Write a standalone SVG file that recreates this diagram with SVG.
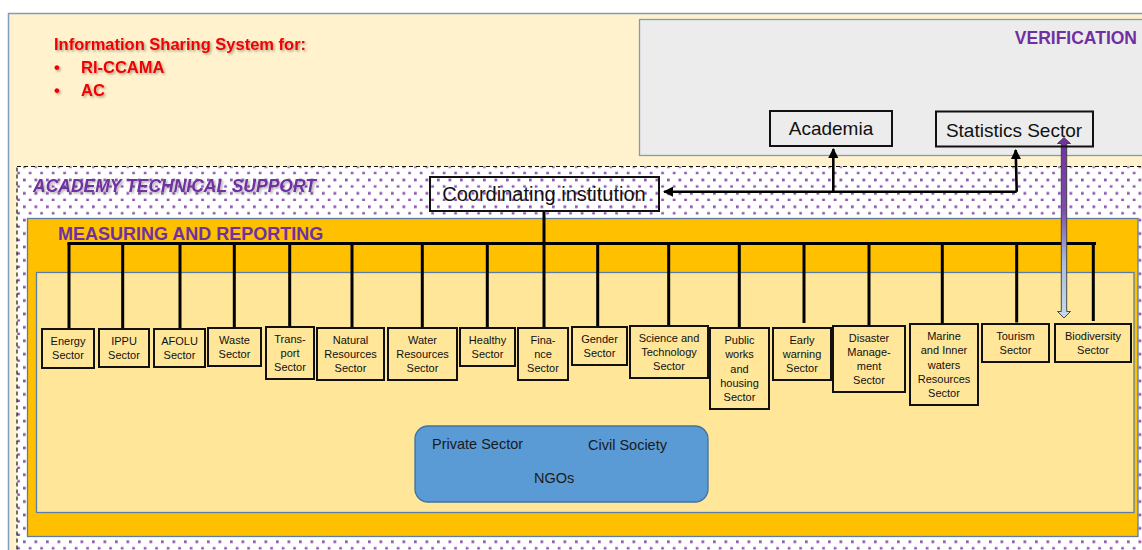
<svg xmlns="http://www.w3.org/2000/svg" width="1142" height="550" viewBox="0 0 1142 550">
  <defs>
    <style>
      .title { font-family: "Liberation Sans", Arial, sans-serif; font-weight: bold; }
      .red { fill: #f00000; font-size: 16.5px; }
      .purple { fill: #7030a0; }
      .sector rect { fill: #ffe699; stroke: #111; stroke-width: 2; }
      .sector text { font-family: "Liberation Sans", Arial, sans-serif; font-size: 11px; fill: #111; text-anchor: middle; }
      .box { fill: none; stroke: #111; stroke-width: 2; }
      .label { font-family: "Liberation Sans", Arial, sans-serif; fill: #111; }
      .wire { fill: none; stroke: #000; stroke-width: 3; }
      .link { fill: none; stroke: #000; stroke-width: 2.6; }
      .soft { font-family: "Liberation Sans", Arial, sans-serif; font-size: 14.5px; fill: #1a1a1a; }
    </style>
    <pattern id="dots" width="11.5" height="13.4" patternUnits="userSpaceOnUse">
      <rect width="11.5" height="13.4" fill="#ffffff"/>
      <rect x="0" y="4.4" width="2.7" height="2.7" fill="#8a4fb0"/>
      <rect x="5.75" y="11.1" width="2.7" height="2.7" fill="#8a4fb0"/>
    </pattern>
    <linearGradient id="twoWay" gradientUnits="userSpaceOnUse" x1="0" y1="137" x2="0" y2="318">
      <stop offset="0" stop-color="#7030a0"/>
      <stop offset="0.4" stop-color="#7d4fab"/>
      <stop offset="0.7" stop-color="#a9bedc"/>
      <stop offset="1" stop-color="#c5daf0"/>
    </linearGradient>
    <filter id="shade" x="-5%" y="-30%" width="110%" height="160%">
      <feDropShadow dx="1.5" dy="1.5" stdDeviation="1" flood-color="#000" flood-opacity="0.35"/>
    </filter>
    <marker id="head" viewBox="0 0 10 10" refX="9" refY="5" markerWidth="4" markerHeight="4" orient="auto" markerUnits="strokeWidth">
      <path d="M0,0 L10,5 L0,10 z" fill="#000"/>
    </marker>
  </defs>

  <!-- panels -->
  <g id="panels">
    <rect x="8.5" y="13.5" width="1140" height="540" fill="#fff2cc" stroke="#7f9cbc" stroke-width="1.5"/>
    <rect x="639.5" y="19.5" width="510" height="136" fill="#ececec" stroke="#7f9cbc" stroke-width="1.3"/>
    <rect x="17" y="166.5" width="1135" height="390" fill="url(#dots)" stroke="#111" stroke-width="1.2" stroke-dasharray="4 3"/>
    <rect x="27.5" y="218.5" width="1110.5" height="318" fill="#ffc000" stroke="#5e7da0" stroke-width="1.3"/>
    <rect x="36.5" y="272.5" width="1097.5" height="240" fill="#ffe699" stroke="#5b7ea8" stroke-width="1.3"/>
  </g>

  <!-- headings -->
  <g id="headings">
    <g filter="url(#shade)">
      <text class="title red" x="54" y="50">Information Sharing System for:</text>
      <text class="title red" x="54" y="73">•</text>
      <text class="title red" x="81" y="73">RI-CCAMA</text>
      <text class="title red" x="54" y="96">•</text>
      <text class="title red" x="81" y="96">AC</text>
    </g>
    <text class="title purple" x="1137" y="43.5" font-size="17.5" text-anchor="end">VERIFICATION</text>
    <text class="title purple" x="33" y="191.5" font-size="17.5" font-style="italic" filter="url(#shade)">ACADEMY TECHNICAL SUPPORT</text>
    <text class="title purple" x="58" y="240" font-size="18">MEASURING AND REPORTING</text>
  </g>

  <!-- connectors -->
  <g id="connectors">
    <path class="wire" d="M544,211 V243"/>
    <path class="wire" d="M67.5,243.5 H1096"/>
    <path class="wire" d="M69,243 V329 M122.7,243 V329 M180,243 V329 M234.3,243 V328 M289.7,243 V327 M352,243 V328 M422.3,243 V327.5 M487.3,243 V327 M544,243 V328 M597.7,243 V327 M668.7,243 V326 M739.3,243 V328 M804,243 V323 M869,243 V325 M942.3,243 V323 M1016.7,243 V322.5 M1093.3,243 V321"/>
    <path class="link" d="M1016.7,191.7 H664" marker-end="url(#head)"/>
    <path class="link" d="M833.3,191.7 V149" marker-end="url(#head)"/>
    <path class="link" d="M1016.7,191.7 L1015.7,150" marker-end="url(#head)"/>
    <path d="M1061.3,143.5 L1057.5,143.5 L1064,137.5 L1070.5,143.5 L1066.7,143.5 L1066.7,311.5 L1070.5,311.5 L1064,318 L1057.5,311.5 L1061.3,311.5 Z" fill="url(#twoWay)" stroke="#3a3a3a" stroke-width="0.9" stroke-linejoin="miter"/>
  </g>

  <!-- verification bodies -->
  <g id="academia">
    <rect class="box" x="770" y="111" width="122" height="35"/>
    <text class="label" x="831" y="135" font-size="19" text-anchor="middle">Academia</text>
  </g>
  <g id="statistics-sector">
    <rect class="box" x="936" y="111.5" width="157" height="35"/>
    <text class="label" x="1014" y="136.5" font-size="19" text-anchor="middle">Statistics Sector</text>
  </g>

  <g id="coordinating-institution">
    <rect class="box" x="430" y="177" width="229" height="34"/>
    <text class="label" x="544" y="201" font-size="20" text-anchor="middle">Coordinating institution</text>
  </g>

  <!-- sectors -->
  <g id="energy" class="sector">
    <rect x="42" y="329" width="52" height="39"/>
    <text x="68" y="345.2">Energy</text><text x="68" y="359.4">Sector</text>
  </g>
  <g id="ippu" class="sector">
    <rect x="99" y="329" width="50" height="38"/>
    <text x="124" y="344.7">IPPU</text><text x="124" y="358.9">Sector</text>
  </g>
  <g id="afolu" class="sector">
    <rect x="154" y="329" width="51" height="38"/>
    <text x="179.5" y="344.7">AFOLU</text><text x="179.5" y="358.9">Sector</text>
  </g>
  <g id="waste" class="sector">
    <rect x="208" y="328" width="53" height="38"/>
    <text x="234.5" y="343.7">Waste</text><text x="234.5" y="357.9">Sector</text>
  </g>
  <g id="transport" class="sector">
    <rect x="266" y="327" width="48" height="52"/>
    <text x="290" y="342.6">Trans-</text><text x="290" y="356.8">port</text><text x="290" y="371">Sector</text>
  </g>
  <g id="natural-resources" class="sector">
    <rect x="317" y="328" width="67" height="52"/>
    <text x="350.5" y="343.6">Natural</text><text x="350.5" y="357.8">Resources</text><text x="350.5" y="372">Sector</text>
  </g>
  <g id="water-resources" class="sector">
    <rect x="388" y="328" width="69" height="52"/>
    <text x="422.5" y="343.6">Water</text><text x="422.5" y="357.8">Resources</text><text x="422.5" y="372">Sector</text>
  </g>
  <g id="healthy" class="sector">
    <rect x="460" y="328" width="55" height="38"/>
    <text x="487.5" y="343.7">Healthy</text><text x="487.5" y="357.9">Sector</text>
  </g>
  <g id="finance" class="sector">
    <rect x="518" y="328" width="50" height="52"/>
    <text x="543" y="343.6">Fina-</text><text x="543" y="357.8">nce</text><text x="543" y="372">Sector</text>
  </g>
  <g id="gender" class="sector">
    <rect x="572" y="327" width="55" height="38"/>
    <text x="599.5" y="342.7">Gender</text><text x="599.5" y="356.9">Sector</text>
  </g>
  <g id="science-technology" class="sector">
    <rect x="630" y="326" width="78" height="52"/>
    <text x="669" y="341.6">Science and</text><text x="669" y="355.8">Technology</text><text x="669" y="370">Sector</text>
  </g>
  <g id="public-works" class="sector">
    <rect x="710" y="328" width="59" height="81"/>
    <text x="739.5" y="344.1">Public</text><text x="739.5" y="358.3">works</text><text x="739.5" y="372.5">and</text><text x="739.5" y="386.7">housing</text><text x="739.5" y="400.9">Sector</text>
  </g>
  <g id="early-warning" class="sector">
    <rect x="773" y="328" width="58" height="52"/>
    <text x="802" y="343.6">Early</text><text x="802" y="357.8">warning</text><text x="802" y="372">Sector</text>
  </g>
  <g id="disaster-management" class="sector">
    <rect x="833" y="326" width="72" height="66"/>
    <text x="869" y="341.5">Disaster</text><text x="869" y="355.7">Manage-</text><text x="869" y="369.9">ment</text><text x="869" y="384.1">Sector</text>
  </g>
  <g id="marine-inner-waters" class="sector">
    <rect x="910" y="324" width="68" height="81"/>
    <text x="944" y="340.1">Marine</text><text x="944" y="354.3">and Inner</text><text x="944" y="368.5">waters</text><text x="944" y="382.7">Resources</text><text x="944" y="396.9">Sector</text>
  </g>
  <g id="tourism" class="sector">
    <rect x="982" y="324" width="67" height="38"/>
    <text x="1015.5" y="339.7">Tourism</text><text x="1015.5" y="353.9">Sector</text>
  </g>
  <g id="biodiversity" class="sector">
    <rect x="1055" y="324" width="76" height="38"/>
    <text x="1093" y="339.7">Biodiversity</text><text x="1093" y="353.9">Sector</text>
  </g>

  <!-- stakeholders -->
  <g id="stakeholders">
    <rect x="415" y="426" width="293" height="76" rx="13" fill="#5b9bd5" stroke="#41719c" stroke-width="1.3"/>
    <text class="soft" x="432" y="449">Private Sector</text>
    <text class="soft" x="588" y="450">Civil Society</text>
    <text class="soft" x="534" y="482.7">NGOs</text>
  </g>
</svg>
